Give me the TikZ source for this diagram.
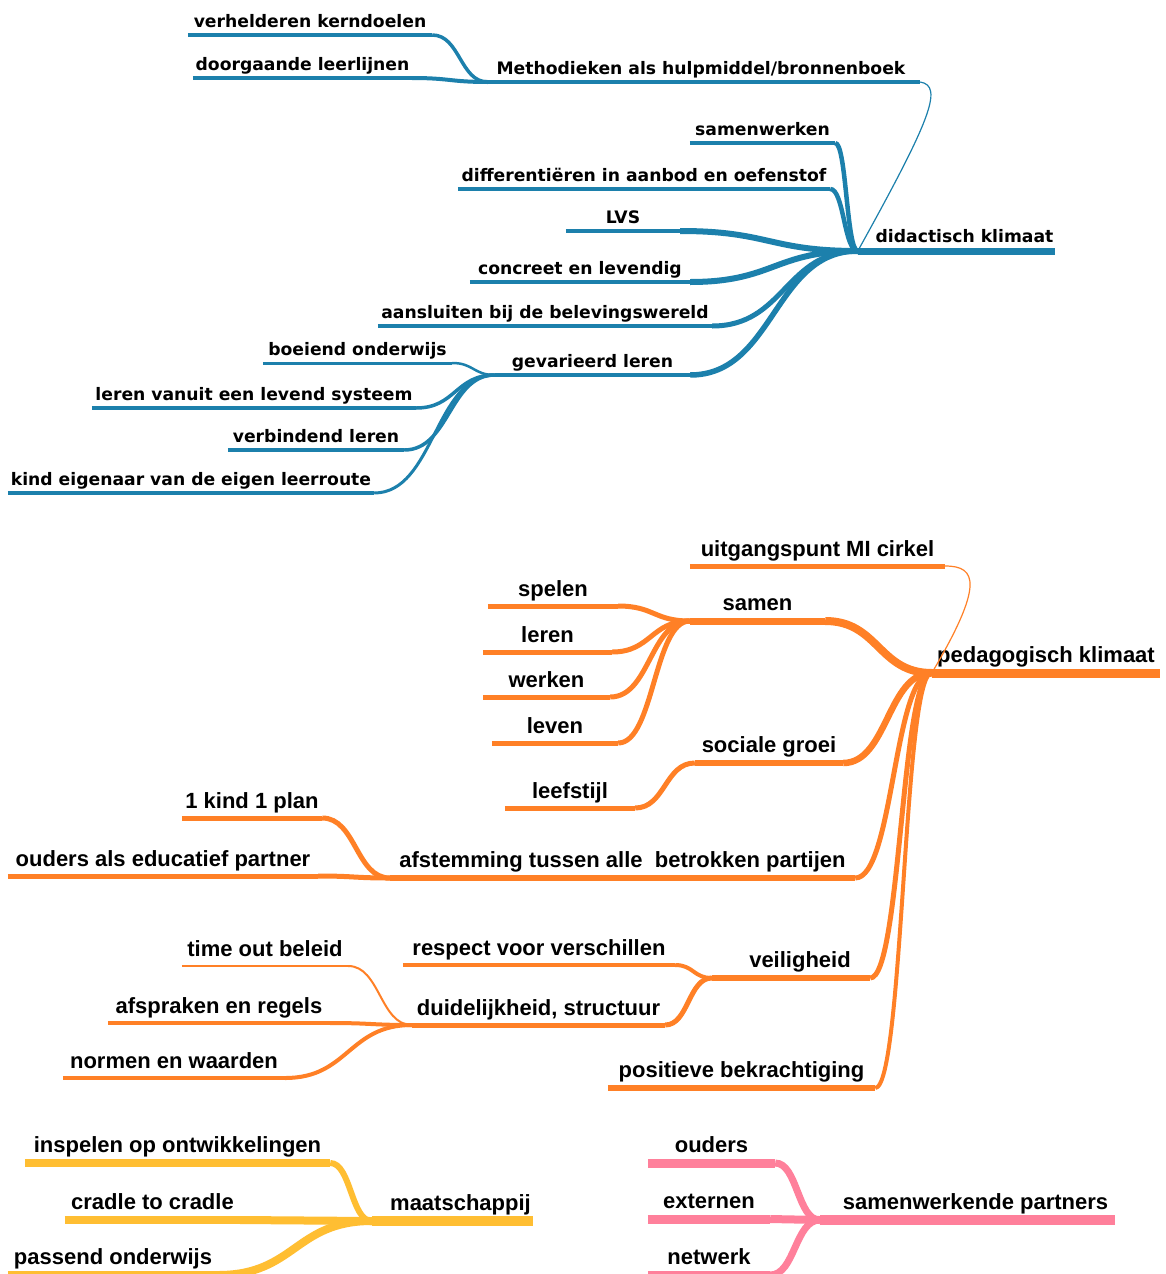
\documentclass[tikz,border=0pt]{standalone}
\usepackage{fontspec}
\setmainfont{Liberation Sans}
\newfontfamily\bluefont{DejaVu Sans}
\usetikzlibrary{calc}
\definecolor{blu}{RGB}{28,128,172}
\definecolor{ora}{RGB}{255,128,38}
\definecolor{yel}{RGB}{255,190,50}
\definecolor{pnk}{RGB}{255,128,155}
% name, x1, x2, y, nodestyle, linestyle, textshift, text
\newcommand\topic[8]{%
  \node[#5, minimum width={#3-#2}, anchor=south] (#1) at ({(#2+#3)/2},#4) {\hspace*{#7pt}#8};
  \draw[#6] (#1.south west) -- (#1.south east);}
% style, child, parent
\newcommand\link[3]{%
  \coordinate (lkA) at (#2.south east);
  \coordinate (lkB) at (#3.south west);
  \coordinate (lkM) at ($(lkA)!0.5!(lkB)$);
  \draw[#1] (lkA) .. controls (lkM |- lkA) and (lkM |- lkB) .. (lkB);}
\begin{document}
\begin{tikzpicture}[x=1pt,y=-1pt,line cap=butt,
  bt/.style={font=\bluefont\bfseries\fontsize{17.2}{20}\selectfont, text depth=7pt, inner sep=0pt},
  btm/.style={bt, text depth=8pt},
  ot/.style={font=\bfseries\fontsize{22}{26}\selectfont, text depth=9pt, inner sep=0pt},
  otm/.style={ot, text depth=10pt},
  B/.style={draw=blu, line width=#1pt},
  O/.style={draw=ora, line width=#1pt},
  Y/.style={draw=yel, line width=#1pt},
  P/.style={draw=pnk, line width=#1pt}]
\useasboundingbox (0,0) rectangle (1165,1274);
\fill[white] (0,0) rectangle (1165,1274);

% ---------------- blue: didactisch klimaat
\topic{ver}{188}{432}{35}{bt}{B=4}{0}{verhelderen kerndoelen}
\topic{doo}{193}{412}{78}{bt}{B=4}{0}{doorgaande leerlijnen}
\topic{meth}{488}{920}{82}{bt}{B=4}{-6}{Methodieken als hulpmiddel/bronnenboek}
\topic{sam}{690}{835}{143}{bt}{B=4}{0}{samenwerken}
\topic{dif}{458}{830}{189}{bt}{B=4}{0}{differentiëren in aanbod en oefenstof}
\topic{lvs}{566}{680}{231}{bt}{B=4}{0}{LVS}
\topic{did}{858}{1055}{251}{btm}{B=7}{16}{didactisch klimaat}
\topic{con}{470}{690}{282}{bt}{B=4}{0}{concreet en levendig}
\topic{aan}{378}{712}{326}{bt}{B=4}{0}{aansluiten bij de belevingswereld}
\topic{gev}{495}{690}{375}{bt}{B=4.5}{0}{gevarieerd leren}
\topic{boe}{263}{452}{363}{bt}{B=3}{0}{boeiend onderwijs}
\topic{lvl}{92}{416}{408}{bt}{B=4}{0}{leren vanuit een levend systeem}
\topic{vbl}{228}{404}{450}{bt}{B=4}{0}{verbindend leren}
\topic{kin}{8}{374}{493}{bt}{B=4}{0}{kind eigenaar van de eigen leerroute}

\link{B=3.5}{ver}{meth}
\link{B=4}{doo}{meth}
\link{B=4.5}{sam}{did}
\link{B=4.5}{dif}{did}
\link{B=6}{lvs}{did}
\link{B=6}{con}{did}
\link{B=5}{aan}{did}
\link{B=5.5}{gev}{did}
\link{B=2.5}{boe}{gev}
\link{B=3.5}{lvl}{gev}
\link{B=3.5}{vbl}{gev}
\link{B=3}{kin}{gev}
\draw[B=1.2] (meth.south east) .. controls +(24,4) and +(72,-130) .. (did.south west);

% ---------------- orange: pedagogisch klimaat
\topic{uit}{690}{945}{566}{ot}{O=5}{0}{uitgangspunt MI cirkel}
\topic{sa}{690}{825}{621}{otm}{O=7}{0}{samen}
\topic{spe}{488}{618}{606}{ot}{O=5}{0}{spelen}
\topic{ler}{483}{612}{652}{ot}{O=5}{0}{leren}
\topic{wer}{483}{610}{697}{ot}{O=5}{0}{werken}
\topic{lev}{492}{618}{743}{ot}{O=5}{0}{leven}
\topic{ped}{932}{1160}{673}{otm}{O=9}{0}{pedagogisch klimaat}
\topic{soc}{695}{843}{763}{otm}{O=6}{0}{sociale groei}
\topic{lee}{505}{635}{808}{ot}{O=5}{0}{leefstijl}
\topic{kpl}{182}{322}{818}{ot}{O=5}{0}{1 kind 1 plan}
\topic{oud}{8}{318}{876}{ot}{O=5}{0}{ouders als educatief partner}
\topic{afs}{390}{855}{878}{otm}{O=6}{0}{afstemming tussen alle\ \ betrokken partijen}
\topic{tim}{182}{348}{966}{ot}{O=2.5}{0}{time out beleid}
\topic{res}{403}{675}{965}{ot}{O=4}{0}{respect voor verschillen}
\topic{vei}{712}{870}{978}{otm}{O=6}{18}{veiligheid}
\topic{dui}{412}{665}{1025}{ot}{O=5}{0}{duidelijkheid, structuur}
\topic{afr}{108}{330}{1023}{ot}{O=4}{0}{afspraken en regels}
\topic{nor}{63}{285}{1078}{ot}{O=4}{0}{normen en waarden}
\topic{pos}{608}{875}{1088}{otm}{O=6}{0}{positieve bekrachtiging}

\link{O=8}{sa}{ped}
\link{O=5}{spe}{sa}
\link{O=5}{ler}{sa}
\link{O=5}{wer}{sa}
\link{O=5}{lev}{sa}
\link{O=6.5}{soc}{ped}
\link{O=5}{lee}{soc}
\link{O=5}{afs}{ped}
\link{O=5}{kpl}{afs}
\link{O=5}{oud}{afs}
\link{O=5}{vei}{ped}
\link{O=4}{res}{vei}
\link{O=5}{dui}{vei}
\link{O=2}{tim}{dui}
\link{O=4}{afr}{dui}
\link{O=4}{nor}{dui}
\link{O=4}{pos}{ped}
\draw[O=1.2] (uit.south east) .. controls +(32,0) and +(52,-88) .. (ped.south west);

% ---------------- yellow: maatschappij
\topic{ins}{25}{330}{1163}{otm}{Y=8}{0}{inspelen op ontwikkelingen}
\topic{cra}{65}{240}{1220}{otm}{Y=8}{0}{cradle to cradle}
\topic{pas}{8}{218}{1275}{otm}{Y=8}{0}{passend onderwijs}
\topic{maa}{372}{533}{1221}{otm}{Y=10}{16}{maatschappij}
\link{Y=6}{ins}{maa}
\link{Y=8}{cra}{maa}
\link{Y=8}{pas}{maa}

% ---------------- pink: samenwerkende partners
\topic{ou}{648}{775}{1163}{otm}{P=9}{0}{ouders}
\topic{ext}{648}{770}{1219}{otm}{P=9}{0}{externen}
\topic{net}{648}{770}{1275}{otm}{P=9}{0}{netwerk}
\topic{swp}{820}{1115}{1220}{otm}{P=10}{16}{samenwerkende partners}
\link{P=7}{ou}{swp}
\link{P=8}{ext}{swp}
\link{P=7}{net}{swp}
\end{tikzpicture}
\end{document}
